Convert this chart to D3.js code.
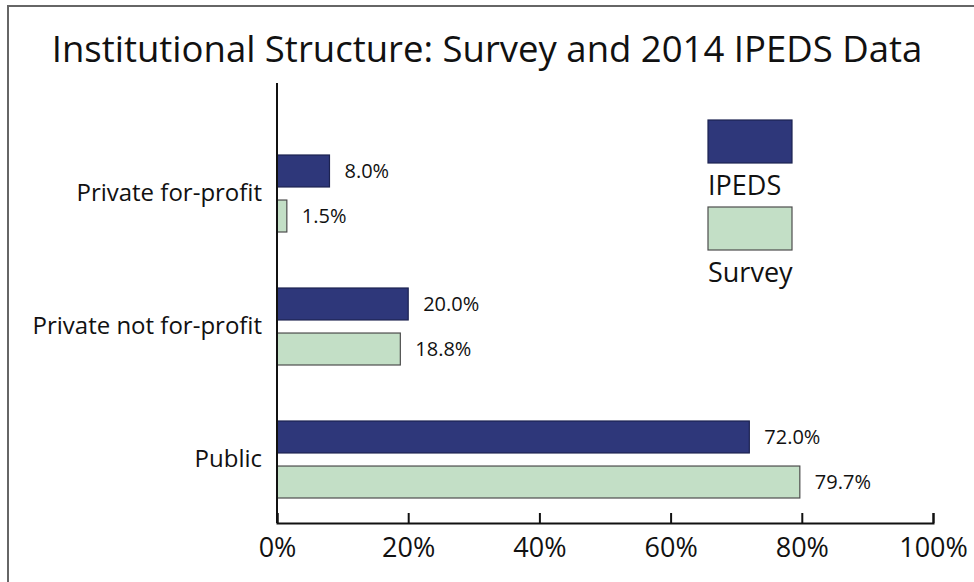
<!DOCTYPE html>
<meta charset="utf-8">
<style>
	body { margin: 0; background: #fff; }
	svg text { font-family: "Open Sans", sans-serif; fill: #111; }
</style>
<script src="https://d3js.org/d3.v7.min.js"></script>
<svg id="chart" width="974" height="582"></svg>
<script>

	var categories = ["Private for-profit", "Private not for-profit", "Public"];
	var seriesNames = ["IPEDS", "Survey"];
	var ipeds = [8.0, 20.0, 72.0];
	var survey = [1.5, 18.8, 79.7];
	var tickValues = [0, 20, 40, 60, 80, 100];

	var colors = { IPEDS: "#2e377a", Survey: "#c3dfc6" };
	var strokes = { IPEDS: "#1c2250", Survey: "#4d4d4d" };

	var svg = d3.select("#chart");

	// frame
	svg.append("path")
		.attr("d", "M8,590V6H980")
		.attr("fill", "none")
		.attr("stroke", "#666")
		.attr("stroke-width", 2);

	svg.append("text")
		.attr("x", 487)
		.attr("y", 62)
		.attr("text-anchor", "middle")
		.style("font-size", "36.5px")
		.text("Institutional Structure: Survey and 2014 IPEDS Data");

	var x = d3.scaleLinear().domain([0, 100]).range([277, 933]);

	var y = d3.scaleBand().domain(categories).range([126.5, 525.5]);

	var ySub = d3.scaleBand().domain(seriesNames).range([28.5, 105.5]).paddingInner(0.29);

	var rows = categories.map(function(c, i) {
		return { cat: c, values: [
			{ name: "IPEDS", value: ipeds[i] },
			{ name: "Survey", value: survey[i] }
		]};
	});

	var group = svg.selectAll("g.row").data(rows).enter().append("g")
		.attr("class", "row")
		.attr("transform", function(d) { return "translate(0," + y(d.cat) + ")"; });

	var bar = group.selectAll("g.bar").data(function(d) { return d.values; }).enter().append("g")
		.attr("class", "bar");

	bar.append("rect")
		.attr("x", x(0))
		.attr("y", function(d) { return ySub(d.name); })
		.attr("width", function(d) { return x(d.value) - x(0); })
		.attr("height", ySub.bandwidth())
		.attr("fill", function(d) { return colors[d.name]; })
		.attr("stroke", function(d) { return strokes[d.name]; })
		.attr("stroke-width", 1.2);

	bar.append("text")
		.attr("x", function(d) { return x(d.value) + 15; })
		.attr("y", function(d) { return ySub(d.name) + ySub.bandwidth() / 2; })
		.attr("dy", "0.35em")
		.style("font-size", "20px")
		.text(function(d) { return d.value.toFixed(1) + "%"; });

	// category labels
	group.append("text")
		.attr("x", 262)
		.attr("y", y.bandwidth() / 2)
		.attr("dy", "0.35em")
		.attr("text-anchor", "end")
		.style("font-size", "24px")
		.text(function(d) { return d.cat; });

	// y axis line
	svg.append("line")
		.attr("x1", x(0)).attr("x2", x(0))
		.attr("y1", 83).attr("y2", 523)
		.attr("stroke", "#111")
		.attr("stroke-width", 2);

	var xAxis = svg.append("g")
		.attr("transform", "translate(0,523)")
		.call(d3.axisBottom(x)
			.tickValues(tickValues)
			.tickSize(-10)
			.tickPadding(15)
			.tickFormat(function(d) { return d + "%"; }));

	xAxis.select(".domain").attr("stroke", "#111").attr("stroke-width", 2);
	xAxis.selectAll(".tick line").attr("stroke", "#111").attr("stroke-width", 2);
	xAxis.selectAll(".tick text")
		.attr("fill", "#111")
		.style("font-family", "'Open Sans', sans-serif")
		.style("font-size", "27px");

	// legend
	var legend = svg.selectAll("g.legend").data(seriesNames).enter().append("g")
		.attr("class", "legend")
		.attr("transform", function(d, i) { return "translate(708," + (120 + i * 87) + ")"; });

	legend.append("rect")
		.attr("width", 84)
		.attr("height", 43)
		.attr("fill", function(d) { return colors[d]; })
		.attr("stroke", function(d) { return strokes[d]; })
		.attr("stroke-width", 1.2);

	legend.append("text")
		.attr("x", 0)
		.attr("y", 75)
		.style("font-size", "27px")
		.text(function(d) { return d; });

</script>
